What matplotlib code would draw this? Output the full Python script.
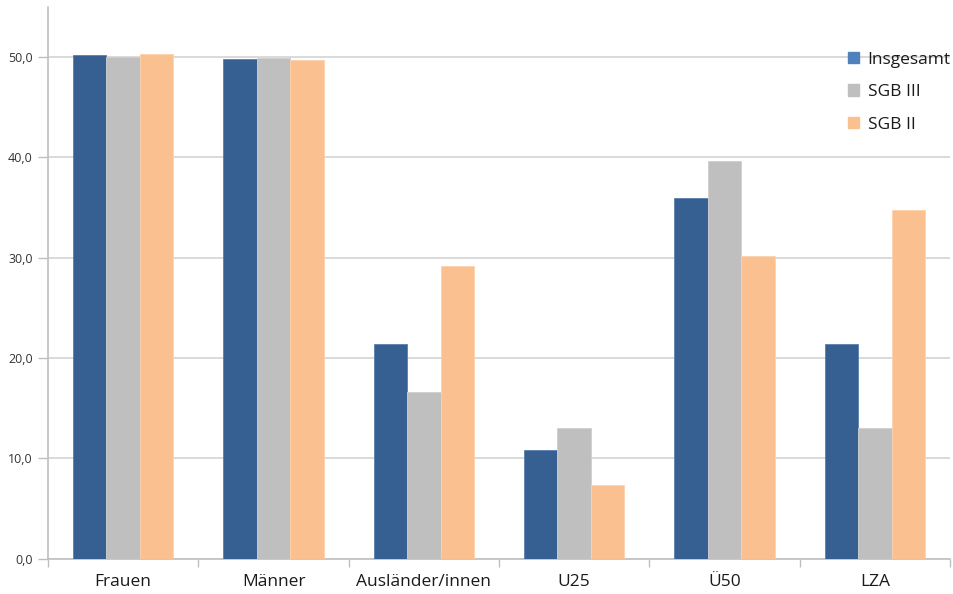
import numpy as np
import matplotlib.pyplot as plt
from matplotlib.patches import Patch

plt.rcParams['font.family'] = ['Open Sans', 'DejaVu Sans']

kategorien = ["Frauen", "Männer", "Ausländer/innen", "U25", "Ü50", "LZA"]
insgesamt = [50.2, 49.8, 21.4, 10.8, 36.0, 21.4]
sgb3 = [50.0, 49.9, 16.6, 13.0, 39.6, 13.0]
sgb2 = [50.3, 49.7, 29.2, 7.3, 30.2, 34.8]

farbe_insg = "#376092"
farbe_sgb3 = "#BFBFBF"
farbe_sgb2 = "#FAC090"

fig = plt.figure(figsize=(9.54, 5.94), dpi=100)
ax = fig.add_axes([48 / 954, (594 - 558.6) / 594, 902 / 954, 551.6 / 594])

x = np.arange(len(kategorien))
w = 0.222
ax.bar(x - w, insgesamt, w, color=farbe_insg, edgecolor="#5A7FAE", linewidth=0.6, zorder=3)
ax.bar(x, sgb3, w, color=farbe_sgb3, edgecolor="#CFCFCF", linewidth=0.6, zorder=3)
ax.bar(x + w, sgb2, w, color=farbe_sgb2, edgecolor="#FCD2AE", linewidth=0.6, zorder=3)

ax.set_xlim(-0.5, len(kategorien) - 0.5)
ax.set_ylim(0, 55)
ax.set_yticks(np.arange(0, 51, 10))
ax.set_yticklabels([f"{v:.1f}".replace(".", ",") for v in np.arange(0, 51, 10)],
                   fontsize=9, color="#333333")
ax.yaxis.grid(True, color="#D9D9D9", linewidth=1.4, zorder=0)

ax.set_xticks(x)
ax.set_xticklabels(kategorien, fontsize=12.5, color="#1A1A1A", fontweight="medium")
ax.set_xticks(np.arange(-0.5, len(kategorien)), minor=True)
ax.tick_params(axis="x", which="major", length=0, pad=11)
ax.tick_params(axis="x", which="minor", length=6, color="#BFBFBF", width=1)
ax.tick_params(axis="y", length=7, color="#BFBFBF", width=1, pad=4)

for s in ["top", "right"]:
    ax.spines[s].set_visible(False)
for s in ["left", "bottom"]:
    ax.spines[s].set_color("#BFBFBF")
    ax.spines[s].set_linewidth(1.2)

handles = [Patch(color="#4F81BD"), Patch(color=farbe_sgb3), Patch(color=farbe_sgb2)]
fig.legend(handles, ["Insgesamt", "SGB III", "SGB II"], loc="upper left",
           bbox_to_anchor=(832 / 954, 1 - 36 / 594), frameon=False, fontsize=12.5,
           handlelength=0.65, handleheight=0.65, handletextpad=0.5,
           labelspacing=0.95, labelcolor="#1A1A1A")

fig.savefig("out.png", dpi=100)
